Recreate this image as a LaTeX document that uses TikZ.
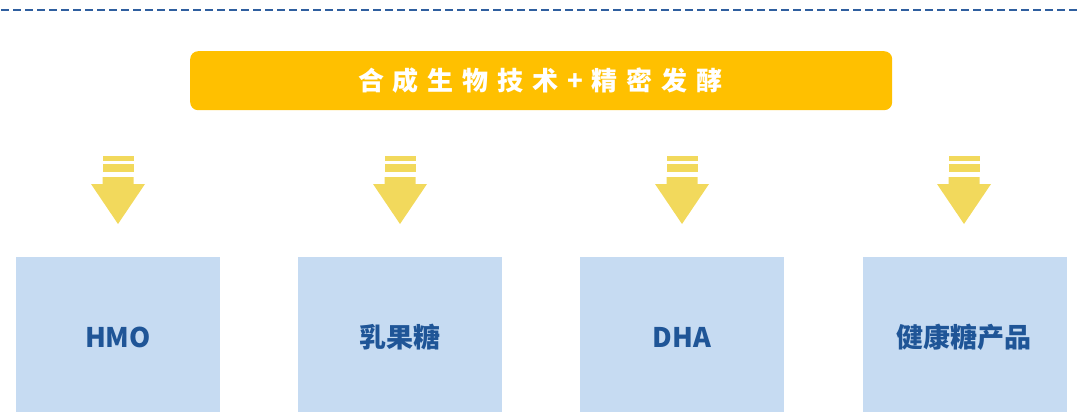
\documentclass[tikz,border=0pt]{standalone}
\usepackage{fontspec}
\newfontfamily\cjk{Noto Sans CJK SC}
\definecolor{dashblue}{HTML}{2F5F9F}
\definecolor{banner}{HTML}{FFC000}
\definecolor{arrowyel}{HTML}{F2D95C}
\definecolor{boxblue}{HTML}{C6DBF2}
\definecolor{textblue}{HTML}{1F5597}
\tikzset{
  prodbox/.style={fill=boxblue, draw=none, minimum width=204pt, minimum height=160pt, inner sep=0pt, anchor=north west},
  prodtext/.style={text=textblue, font=\cjk\bfseries\fontsize{27}{32}\selectfont, inner sep=0pt},
  bannerbox/.style={fill=banner, draw=none, rounded corners=8pt, minimum width=702pt, minimum height=59pt, inner sep=0pt, anchor=north west},
  bannertext/.style={font=\cjk\bfseries\fontsize{26}{30}\selectfont\addfontfeature{LetterSpace=34}, text=white, inner sep=0pt},
  downarrow/.style={fill=arrowyel, draw=none}
}
\begin{document}
\begin{tikzpicture}[x=1pt,y=-1pt]
\useasboundingbox (0,0) rectangle (1079,412);
\coordinate (dl) at (1,10);
\coordinate (dr) at (1079,10);
\draw[dashblue, line width=2.4pt, dash pattern=on 8pt off 4pt] (dl) -- (dr);
\node[bannerbox] (banner) at (190,51) {};
\node[bannertext] (btext) at ([xshift=-1pt]banner.center) {合成生物技术+精密发酵};
\foreach \cx in {118,400,682,964}{
  \fill[downarrow] (\cx-15.5,156) rectangle (\cx+15.5,161);
  \fill[downarrow] (\cx-15.5,164) rectangle (\cx+15.5,172);
  \fill[downarrow] (\cx-15.5,177) -- (\cx+15.5,177) -- (\cx+15.5,184) -- (\cx+27,184)
    -- (\cx,224) -- (\cx-27,184) -- (\cx-15.5,184) -- cycle;
}
\node[prodbox] (p1) at (16,257) {};
\node[prodbox] (p2) at (298,257) {};
\node[prodbox] (p3) at (580,257) {};
\node[prodbox] (p4) at (863,257) {};
\node[prodtext] (t1) at (118,337) {HMO};
\node[prodtext] (t2) at (400,337) {乳果糖};
\node[prodtext] (t3) at (682,337) {DHA};
\node[prodtext] (t4) at (964,337) {健康糖产品};
\end{tikzpicture}
\end{document}
